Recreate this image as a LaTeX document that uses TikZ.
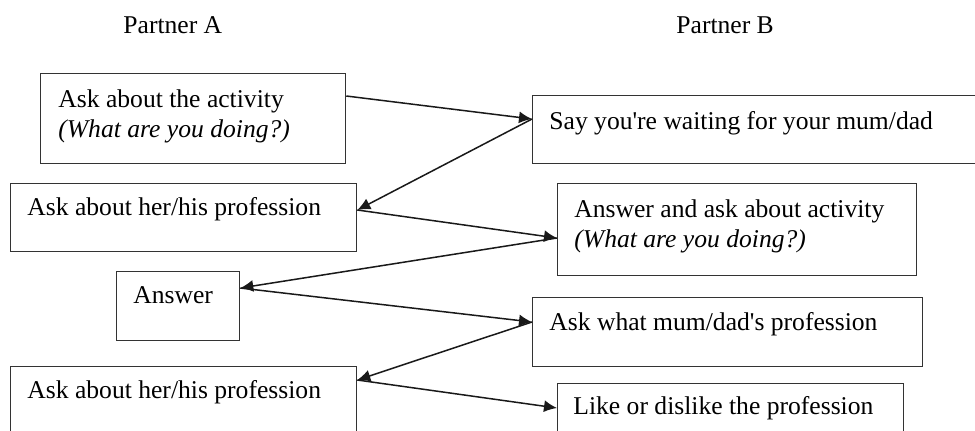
\documentclass[tikz,border=0pt]{standalone}
\usepackage{fontspec}
\setmainfont{Liberation Serif}
\usetikzlibrary{arrows.meta}

\begin{document}
\begin{tikzpicture}[x=0.5pt,y=-0.5pt,
	stepbox/.style={draw=black!80,line width=0.65pt,inner sep=0pt,anchor=north west},
	steptext/.style={anchor=base west,inner sep=0pt,align=left,font=\fontsize{12.8}{15}\selectfont},
	flow/.style={draw=black!90,line width=0.75pt,-{Latex[length=6.5pt,width=6pt]}}]
		\useasboundingbox (0,0) rectangle (975,430);
		%headings
		\node[steptext] (headA) at (123,33) {Partner A};
		\node[steptext] (headB) at (676,33) {Partner B};
		
		%partner A
		\node[stepbox,minimum width=152.5pt,minimum height=45pt] (a1) at (40,73) {};
		\node[stepbox,minimum width=173pt,minimum height=34pt] (a2) at (10,183) {};
		\node[stepbox,minimum width=61.5pt,minimum height=34.5pt] (a3) at (116,271) {};
		\node[stepbox,minimum width=173pt,minimum height=40pt] (a4) at (10,366) {};
		%partner B
		\node[stepbox,minimum width=225pt,minimum height=34pt] (b1) at (532,95) {};
		\node[stepbox,minimum width=179.5pt,minimum height=46pt] (b2) at (557,183) {};
		\node[stepbox,minimum width=195pt,minimum height=34.5pt] (b3) at (532,297) {};
		\node[stepbox,minimum width=173pt,minimum height=31pt] (b4) at (557,383) {};
		
		%texts (base = last line)
		\node[steptext] (a1text) at ([shift={(18,64)}]a1.north west) {Ask about the activity\\ \textit{(What are you doing?)}};
		\node[steptext] (a2text) at ([shift={(17,32)}]a2.north west) {Ask about her/his profession};
		\node[steptext] (a3text) at ([shift={(17,32)}]a3.north west) {Answer};
		\node[steptext] (a4text) at ([shift={(17,32)}]a4.north west) {Ask about her/his profession};
		\node[steptext] (b1text) at ([shift={(17,34)}]b1.north west) {Say you\textquotesingle re waiting for your mum/dad};
		\node[steptext] (b2text) at ([shift={(17,64)}]b2.north west) {Answer and ask about activity\\ \textit{(What are you doing?)}};
		\node[steptext] (b3text) at ([shift={(17,33)}]b3.north west) {Ask what mum/dad\textquotesingle s profession};
		\node[steptext] (b4text) at ([shift={(16,31)}]b4.north west) {Like or dislike the profession};
		
		%ports
		\coordinate (a1p) at ([shift={(0,23)}]a1.north east);
		\coordinate (a2p) at ([shift={(0,27)}]a2.north east);
		\coordinate (a3p) at ([shift={(0,17)}]a3.north east);
		\coordinate (a4p) at ([shift={(0,14)}]a4.north east);
		\coordinate (b1p) at ([shift={(0,24)}]b1.north west);
		\coordinate (b2p) at ([shift={(0,55)}]b2.north west);
		\coordinate (b3p) at ([shift={(0,25)}]b3.north west);
		\coordinate (b4p) at ([shift={(0,25)}]b4.north west);
		
		%dialogue
		\draw[flow] (a1p) -- (b1p);
		\draw[flow] (b1p) -- (a2p);
		\draw[flow] (a2p) -- (b2p);
		\draw[flow] (b2p) -- (a3p);
		\draw[flow] (a3p) -- (b3p);
		\draw[flow] (b3p) -- (a4p);
		\draw[flow] (a4p) -- (b4p);
	\end{tikzpicture}
\end{document}
